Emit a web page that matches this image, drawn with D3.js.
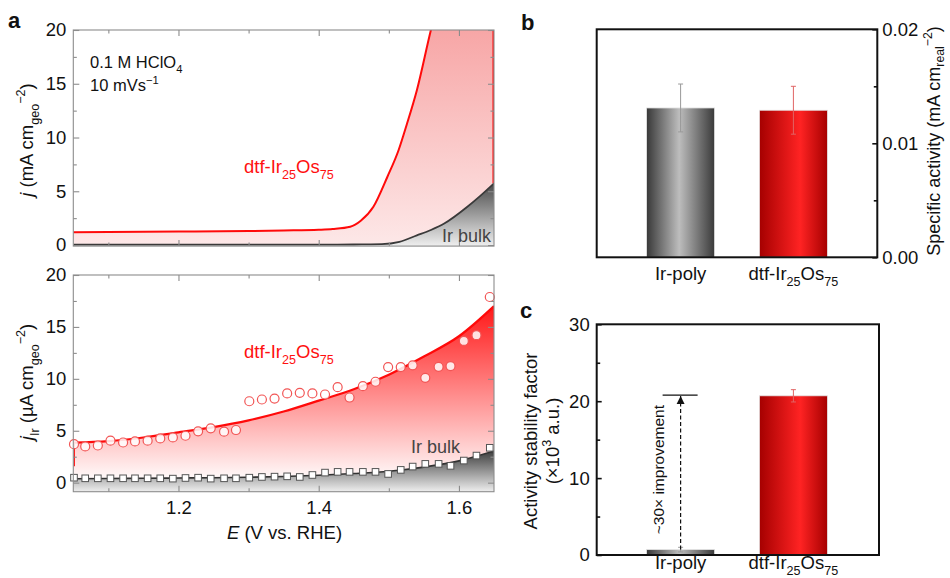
<!DOCTYPE html>
<html><head><meta charset="utf-8">
<script src="https://cdn.jsdelivr.net/npm/d3@7"></script>
<style>body{margin:0;background:#fff} svg text{font-family:"Liberation Sans",Arial,Helvetica,sans-serif}</style>
</head><body><svg id="c" width="950" height="578"></svg>
<script>
// ---------- DATA ----------
// panel a (top): polarisation curves, j in mA cm-2
const topE_dtf = [1.05,1.10,1.20,1.30,1.35,1.40,1.42,1.445,1.46,1.478,1.498,1.514,1.526,1.54,1.56,1.58,1.60,1.65];
const topJ_dtf = [1.18,1.20,1.25,1.30,1.35,1.42,1.49,1.70,2.26,3.56,6.35,8.84,11.3,14.4,20.0,25.0,30.0,40.0];
const topE_bulk = [1.05,1.20,1.30,1.40,1.45,1.47,1.49,1.515,1.54,1.56,1.579,1.612,1.63,1.65];
const topJ_bulk = [0.03,0.03,0.03,0.04,0.05,0.06,0.08,0.30,0.90,1.40,2.00,3.56,4.55,5.74];
// panel a (bottom): Ir dissolution, j_Ir in uA cm-2
const dissE = [1.051,1.067,1.085,1.103,1.121,1.138,1.156,1.174,1.192,1.210,1.228,1.246,1.265,1.282,1.301,1.319,1.337,1.355,1.373,1.391,1.409,1.427,1.444,1.463,1.481,1.499,1.517,1.534,1.552,1.571,1.588,1.607,1.625,1.644];
const dissDtf = [3.71,3.49,3.58,4.04,3.87,3.97,4.04,4.26,4.36,4.52,4.94,5.23,4.91,5.07,7.84,8.01,8.10,8.59,8.65,8.59,8.49,9.20,8.20,9.29,9.72,11.13,11.13,11.30,10.10,11.16,11.23,13.65,14.20,17.88];
const dissBulk = [0.48,0.42,0.42,0.42,0.42,0.42,0.42,0.42,0.39,0.45,0.48,0.39,0.42,0.42,0.48,0.55,0.58,0.61,0.55,0.74,0.97,1.04,1.04,1.04,1.04,0.84,1.23,1.55,1.81,1.81,1.62,2.13,2.61,3.36];
const fitE = [1.05,1.10,1.15,1.20,1.25,1.30,1.35,1.40,1.45,1.50,1.55,1.60,1.65];
const fitDtf = [3.85,4.00,4.35,4.85,5.35,6.00,6.85,7.90,9.00,10.40,12.15,14.10,17.00];
const fitBulk = [0.38,0.40,0.42,0.45,0.48,0.52,0.60,0.72,0.88,1.10,1.50,2.10,3.05];
const xTicksA = [1.2,1.4,1.6];
const xMinorA = [1.1,1.3,1.5];
const yTicksA = [0,5,10,15,20];
const yMinorA = [2.5,7.5,12.5,17.5];
// panel b: specific activity
const cats = ["Ir-poly","dtf-Ir25Os75"];
const specAct = [0.0131,0.0129];
const specErr = [0.0021,0.0021];
const yTicksB = [0,0.01,0.02];
const yMinorB = [0.005,0.015];
// panel c: activity stability factor (x10^3)
const asf = [0.7,20.7];
const asfErr = [0.3,0.8];
const yTicksC = [0,10,20,30];
const yMinorC = [5,15,25];
const improveLevel = 20.8;

// ---------- HELPERS ----------
const svg = d3.select('#c');
const defs = svg.append('defs');
const FS = 18.5;
function rich(t, parts, fs, subShift){
  let off = 0;
  const sb = subShift==null ? 0.3 : subShift;
  parts.forEach(p=>{
    const [s,m,it] = p;
    const target = m==='sub' ? fs*sb : m==='sup' ? -fs*0.42 : 0;
    const ts = t.append('tspan').text(s).attr('dy', target-off);
    if(m) ts.attr('font-size', fs*0.68);
    if(it) ts.attr('font-style','italic');
    off = target;
  });
  return t;
}
function grad(id, x1,y1,x2,y2, stops, units){
  const g = defs.append('linearGradient').attr('id',id)
    .attr('x1',x1).attr('y1',y1).attr('x2',x2).attr('y2',y2);
  if(units) g.attr('gradientUnits',units);
  stops.forEach(s=>g.append('stop').attr('offset',s[0]).attr('stop-color',s[1]));
}

// ---------- PANEL A ----------
const xA = d3.scaleLinear().domain([1.05,1.65]).range([73.3,494]);
const yTop = d3.scaleLinear().domain([-0.1,20]).range([246.1,30]);
const yBot = d3.scaleLinear().domain([-0.87,20]).range([491.7,275]);

grad('gTopPink',0,yTop(20),0,yTop(0),[[0,'#f7a6a6'],[1,'#fde8e8']],'userSpaceOnUse');
grad('gTopGray',0,yTop(5.74),0,yTop(0),[[0,'#4a4a4a'],[1,'#ececec']],'userSpaceOnUse');
grad('gBotRed',0,yBot(17),0,yBot(0),[[0,'#ff1818'],[1,'#ffffff']],'userSpaceOnUse');
grad('gBotGray',0,yBot(3.1),0,yBot(-0.87),[[0,'#3c3c3c'],[1,'#eeeeee']],'userSpaceOnUse');

function clip(id, x, y){
  defs.append('clipPath').attr('id',id).append('rect')
    .attr('x',x.range()[0]).attr('y',y.range()[1])
    .attr('width',x.range()[1]-x.range()[0]).attr('height',y.range()[0]-y.range()[1]);
}
clip('clipTop',xA,yTop); clip('clipBot',xA,yBot);

function frameA(g, x, y, showX){
  const col = '#8c8c8c';
  const [x0,x1] = x.range(), [y0,y1] = y.range();
  const tk = (sel)=>sel.call(s=>s.select('.domain').remove()).call(s=>s.selectAll('.tick line').attr('stroke',col).attr('stroke-width',1.1))
     .call(s=>s.selectAll('.tick text').attr('font-size',FS).attr('fill','#111'));
  g.append('g').attr('transform',`translate(${x0},0)`).call(d3.axisLeft(y).tickValues(yTicksA).tickSize(-6).tickPadding(7).tickFormat(d3.format('d'))).call(tk);
  g.append('g').attr('transform',`translate(${x0},0)`).call(d3.axisLeft(y).tickValues(yMinorA).tickSize(-3.5).tickFormat('')).call(tk);
  g.append('g').attr('transform',`translate(${x1},0)`).call(d3.axisRight(y).tickValues(yTicksA).tickSize(-6).tickFormat('')).call(tk);
  g.append('g').attr('transform',`translate(${x1},0)`).call(d3.axisRight(y).tickValues(yMinorA).tickSize(-3.5).tickFormat('')).call(tk);
  g.append('g').attr('transform',`translate(0,${y1})`).call(d3.axisTop(x).tickValues(xTicksA).tickSize(-6).tickFormat('')).call(tk);
  g.append('g').attr('transform',`translate(0,${y1})`).call(d3.axisTop(x).tickValues(xMinorA).tickSize(-3.5).tickFormat('')).call(tk);
  g.append('g').attr('transform',`translate(0,${y0})`).call(d3.axisBottom(x).tickValues(xTicksA).tickSize(-6).tickPadding(9).tickFormat(showX?d3.format('.1f'):'')).call(tk);
  g.append('g').attr('transform',`translate(0,${y0})`).call(d3.axisBottom(x).tickValues(xMinorA).tickSize(-3.5).tickFormat('')).call(tk);
  g.append('rect').attr('x',x0).attr('y',y1).attr('width',x1-x0).attr('height',y0-y1)
    .attr('fill','none').attr('stroke',col).attr('stroke-width',1.1);
}

// top panel
const gTop = svg.append('g');
const topDtf = topE_dtf.map((e,i)=>({e, j:topJ_dtf[i]}));
const topBulk = topE_bulk.map((e,i)=>({e, j:topJ_bulk[i]}));
const gTopC = gTop.append('g').attr('clip-path','url(#clipTop)');
gTopC.append('path').datum(topDtf)
  .attr('d', d3.area().x(d=>xA(d.e)).y0(yTop(-0.1)).y1(d=>yTop(d.j)).curve(d3.curveMonotoneX))
  .attr('fill','url(#gTopPink)');
gTopC.append('path').datum(topBulk)
  .attr('d', d3.area().x(d=>xA(d.e)).y0(yTop(-0.1)).y1(d=>yTop(d.j)).curve(d3.curveMonotoneX))
  .attr('fill','url(#gTopGray)');
gTopC.append('line').attr('x1',xA(1.65)-0.8).attr('x2',xA(1.65)-0.8)
  .attr('y1',yTop(20)).attr('y2',yTop(topJ_bulk[topJ_bulk.length-1]))
  .attr('stroke','#ff2020').attr('stroke-width',1.6);
gTopC.append('path').datum(topDtf)
  .attr('d', d3.line().x(d=>xA(d.e)).y(d=>yTop(d.j)).curve(d3.curveMonotoneX))
  .attr('fill','none').attr('stroke','#ff0a0a').attr('stroke-width',2);
gTopC.append('path').datum(topBulk)
  .attr('d', d3.line().x(d=>xA(d.e)).y(d=>yTop(d.j)).curve(d3.curveMonotoneX))
  .attr('fill','none').attr('stroke','#3a3a3a').attr('stroke-width',1.8);
frameA(gTop, xA, yTop, false);

rich(gTop.append('text').attr('x',90).attr('y',68).attr('font-size',16.5).attr('fill','#111'),
  [['0.1 M HClO'],['4','sub']],16.5);
rich(gTop.append('text').attr('x',90).attr('y',91).attr('font-size',16.5).attr('fill','#111'),
  [['10 mVs'],['\u22121','sup']],16.5);
rich(gTop.append('text').attr('x',244).attr('y',173).attr('font-size',18.5).attr('fill','#ff1010'),
  [['dtf-Ir'],['25','sub'],['Os'],['75','sub']],18.5);
gTop.append('text').attr('x',442).attr('y',242).attr('font-size',18).attr('fill','#444').text('Ir bulk');

// bottom panel
const gBot = svg.append('g');
const fitD = fitE.map((e,i)=>({e, j:fitDtf[i]}));
const fitB = fitE.map((e,i)=>({e, j:fitBulk[i]}));
const gBotC = gBot.append('g').attr('clip-path','url(#clipBot)');
gBotC.append('path').datum(fitD)
  .attr('d', d3.area().x(d=>xA(d.e)).y0(yBot(-0.87)).y1(d=>yBot(d.j)).curve(d3.curveMonotoneX))
  .attr('fill','url(#gBotRed)');
gBotC.append('path').datum(fitB)
  .attr('d', d3.area().x(d=>xA(d.e)).y0(yBot(-0.87)).y1(d=>yBot(d.j)).curve(d3.curveMonotoneX))
  .attr('fill','url(#gBotGray)');
gBotC.append('line').attr('x1',xA(1.05)+1).attr('x2',xA(1.05)+1)
  .attr('y1',yBot(fitDtf[0])).attr('y2',yBot(dissBulk[0]+1.1))
  .attr('stroke','#ff2020').attr('stroke-width',1.4);
gBotC.append('path').datum(fitD)
  .attr('d', d3.line().x(d=>xA(d.e)).y(d=>yBot(d.j)).curve(d3.curveMonotoneX))
  .attr('fill','none').attr('stroke','#ff0a0a').attr('stroke-width',2.2);
gBotC.append('path').datum(fitB)
  .attr('d', d3.line().x(d=>xA(d.e)).y(d=>yBot(d.j)).curve(d3.curveMonotoneX))
  .attr('fill','none').attr('stroke','#333').attr('stroke-width',1.6);
gBot.append('g').selectAll('circle').data(dissE).join('circle')
  .attr('cx',(d)=>xA(d)).attr('cy',(d,i)=>yBot(dissDtf[i])).attr('r',4.5)
  .attr('fill','#fff').attr('fill-opacity',0.85).attr('stroke','#f25555').attr('stroke-width',1.2);
gBot.append('g').selectAll('rect').data(dissE).join('rect')
  .attr('x',d=>xA(d)-3.3).attr('y',(d,i)=>yBot(dissBulk[i])-3.3).attr('width',6.6).attr('height',6.6)
  .attr('fill','#fff').attr('stroke','#555').attr('stroke-width',1);
frameA(gBot, xA, yBot, true);
rich(gBot.append('text').attr('x',244).attr('y',358).attr('font-size',18.5).attr('fill','#ff1010'),
  [['dtf-Ir'],['25','sub'],['Os'],['75','sub']],18.5);
gBot.append('text').attr('x',411).attr('y',453).attr('font-size',18).attr('fill','#444').text('Ir bulk');

rich(svg.append('text').attr('x',284.5).attr('y',539).attr('text-anchor','middle').attr('font-size',FS).attr('fill','#111'),
  [['E','',true],[' (V vs. RHE)']],FS);
rich(svg.append('text').attr('transform','translate(33,140) rotate(-90)').attr('text-anchor','middle').attr('font-size',FS).attr('fill','#111'),
  [['j','',true],[' (mA cm'],['geo','sub'],['\u22122','sup'],[')']],FS);
rich(svg.append('text').attr('transform','translate(33,382) rotate(-90)').attr('text-anchor','middle').attr('font-size',FS).attr('fill','#111'),
  [['j','',true],['Ir','sub'],[' (\u00b5A cm'],['geo','sub'],['\u22122','sup'],[')']],FS);

// ---------- PANELS B & C ----------
const xB = d3.scalePoint().domain(cats).range([596.7,877.3]).padding(0.744);
const barW = 68;
const yB = d3.scaleLinear().domain([0,0.02]).range([257.3,29.3]);
const yC = d3.scaleLinear().domain([0,30]).range([555,324.3]);
grad('gBarGray',0,0,1,0,[[0,'#383838'],[0.48,'#bdbdbd'],[1,'#3a3a3a']]);
grad('gBarRed',0,0,1,0,[[0,'#a50000'],[0.6,'#ff2323'],[1,'#a60000']]);
const barFill = ['url(#gBarGray)','url(#gBarRed)'];
const errCol = ['#999','#e06464'];

function bars(g, y, vals, errs){
  g.selectAll('rect.bar').data(vals).join('rect').attr('class','bar')
    .attr('x',(d,i)=>xB(cats[i])-barW/2).attr('width',barW)
    .attr('y',d=>y(d)).attr('height',d=>y.range()[0]-y(d))
    .attr('fill',(d,i)=>barFill[i]).attr('stroke','#e4e4e4').attr('stroke-width',0.8);
  const eg = g.selectAll('g.err').data(vals).join('g').attr('class','err');
  eg.append('line').attr('x1',(d,i)=>xB(cats[i])).attr('x2',(d,i)=>xB(cats[i]))
    .attr('y1',(d,i)=>y(d+errs[i])).attr('y2',(d,i)=>y(d-errs[i]))
    .attr('stroke',(d,i)=>errCol[i]).attr('stroke-width',1);
  [1,-1].forEach(s=>{
    eg.append('line').attr('x1',(d,i)=>xB(cats[i])-2.5).attr('x2',(d,i)=>xB(cats[i])+2.5)
      .attr('y1',(d,i)=>y(d+s*errs[i])).attr('y2',(d,i)=>y(d+s*errs[i]))
      .attr('stroke',(d,i)=>errCol[i]).attr('stroke-width',1);
  });
}
function catLabels(g, ybase){
  rich(g.append('text').attr('x',xB(cats[0])).attr('y',ybase).attr('text-anchor','middle').attr('font-size',FS).attr('fill','#111'),[['Ir-poly']],FS);
  rich(g.append('text').attr('x',xB(cats[1])).attr('y',ybase).attr('text-anchor','middle').attr('font-size',FS).attr('fill','#111'),
    [['dtf-Ir'],['25','sub'],['Os'],['75','sub']],FS);
}
function bframe(g, x0, x1, y){
  g.append('rect').attr('x',x0).attr('y',y.range()[1]).attr('width',x1-x0).attr('height',y.range()[0]-y.range()[1])
    .attr('fill','none').attr('stroke','#111').attr('stroke-width',2);
}
const tkB = (sel)=>sel.call(s=>s.select('.domain').remove()).call(s=>s.selectAll('.tick line').attr('stroke','#111').attr('stroke-width',1.6))
     .call(s=>s.selectAll('.tick text').attr('font-size',FS).attr('fill','#111'));

// panel b
const gB = svg.append('g');
bars(gB, yB, specAct, specErr);
bframe(gB, 596.7, 877.3, yB);
gB.append('g').attr('transform','translate(877.3,0)').call(d3.axisRight(yB).tickValues(yTicksB).tickSize(-5).tickPadding(5).tickFormat(d3.format('.2f'))).call(tkB);
gB.append('g').attr('transform','translate(877.3,0)').call(d3.axisRight(yB).tickValues(yMinorB).tickSize(-3.5).tickFormat('')).call(tkB);
catLabels(gB, 280);
rich(svg.append('text').attr('transform','translate(940,141) rotate(-90)').attr('text-anchor','middle').attr('font-size',18).attr('fill','#111'),
  [['Specific activity (mA cm'],['real','sub'],['\u22122','sup'],[')']],18, 0.22);

// panel c
const gC = svg.append('g');
bars(gC, yC, asf, asfErr);
bframe(gC, 596.7, 879, yC);
gC.append('g').attr('transform','translate(596.7,0)').call(d3.axisLeft(yC).tickValues(yTicksC).tickSize(-5).tickPadding(7).tickFormat(d3.format('d'))).call(tkB);
gC.append('g').attr('transform','translate(596.7,0)').call(d3.axisLeft(yC).tickValues(yMinorC).tickSize(-3.5).tickFormat('')).call(tkB);
catLabels(gC, 569);
// improvement annotation
const ax = xB(cats[0]);
defs.append('marker').attr('id','arr').attr('viewBox','0 0 10 10').attr('refX',10).attr('refY',5)
  .attr('markerWidth',7).attr('markerHeight',7).attr('orient','auto-start-reverse')
  .append('path').attr('d','M0,0L10,5L0,10z').attr('fill','#111');
gC.append('line').attr('x1',ax).attr('x2',ax).attr('y1',yC(asf[0])).attr('y2',yC(improveLevel)+1)
  .attr('stroke','#111').attr('stroke-width',1.2).attr('stroke-dasharray','4,2.5').attr('marker-end','url(#arr)');
gC.append('line').attr('x1',ax-18).attr('x2',ax+17).attr('y1',yC(improveLevel)).attr('y2',yC(improveLevel))
  .attr('stroke','#111').attr('stroke-width',1.3);
gC.append('text').attr('transform',`translate(${ax-17},${yC(asf[0])-80}) rotate(-90)`).attr('text-anchor','middle')
  .attr('font-size',15.5).attr('fill','#111').text('~30\u00d7 improvement');
svg.append('text').attr('transform','translate(537,441) rotate(-90)').attr('text-anchor','middle').attr('font-size',FS).attr('fill','#111').text('Activity stability factor');
rich(svg.append('text').attr('transform','translate(559,441) rotate(-90)').attr('text-anchor','middle').attr('font-size',FS).attr('fill','#111'),
  [['(\u00d710'],['3','sup'],[' a.u.)']],FS);

// panel letters
[['a',8,28],['b',521,30],['c',520,318]].forEach(([t,x,y])=>
  svg.append('text').attr('x',x).attr('y',y).attr('font-size',22).attr('font-weight','bold').attr('fill','#111').text(t));
</script></body></html>
